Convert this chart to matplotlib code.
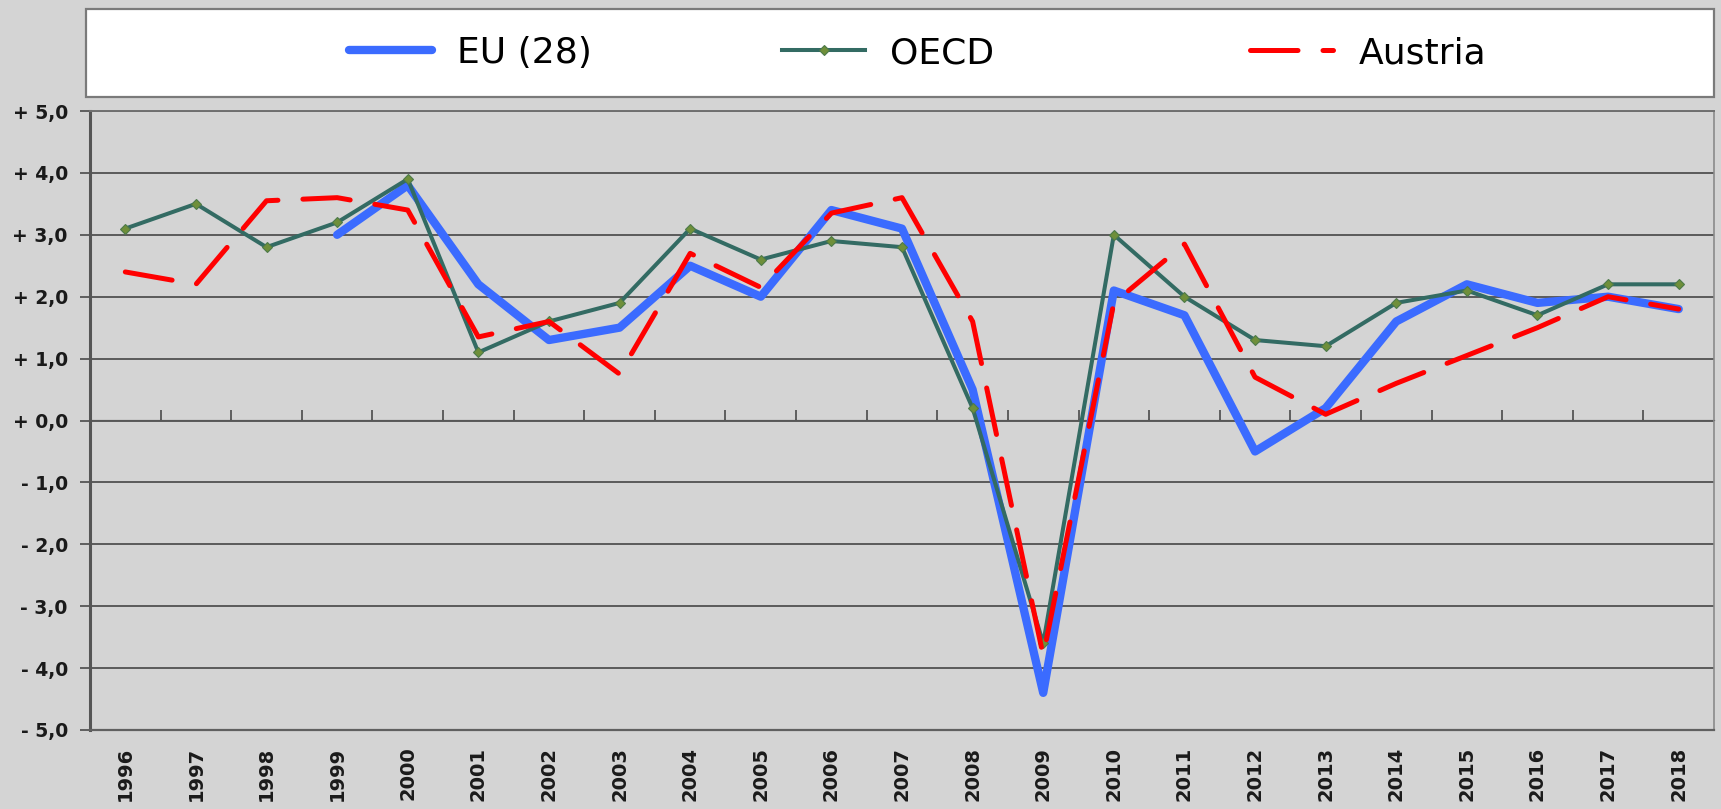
import numpy as np
import matplotlib.pyplot as plt
from matplotlib.patches import Rectangle
from matplotlib.ticker import FuncFormatter

nan = np.nan

# Real GDP growth, % vs previous year
years = [str(y) for y in range(1996, 2019)]
eu28 = [nan, nan, nan, 3.0, 3.8, 2.2, 1.3, 1.5, 2.5, 2.0, 3.4, 3.1,
        0.5, -4.4, 2.1, 1.7, -0.5, 0.2, 1.6, 2.2, 1.9, 2.0, 1.8]
oecd = [3.1, 3.5, 2.8, 3.2, 3.9, 1.1, 1.6, 1.9, 3.1, 2.6, 2.9, 2.8,
        0.2, -3.6, 3.0, 2.0, 1.3, 1.2, 1.9, 2.1, 1.7, 2.2, 2.2]
austria = [2.4, 2.2, 3.55, 3.6, 3.4, 1.35, 1.6, 0.75, 2.7, 2.15, 3.35, 3.6,
           1.6, -3.8, 1.9, 2.85, 0.7, 0.1, 0.6, 1.05, 1.5, 2.0, 1.8]

bg = '#d4d4d4'
W, H = 1721, 809

fig = plt.figure(figsize=(W / 100, H / 100), dpi=100, facecolor=bg)
ax = fig.add_axes([90 / W, 1 - 730 / H, (1714 - 90) / W, (730 - 111) / H])
ax.set_facecolor(bg)

x = np.arange(len(years))
l1, = ax.plot(x, eu28, color='#3b6bff', lw=6, solid_joinstyle='round', solid_capstyle='round',
              label='EU (28)', zorder=3)
l2, = ax.plot(x, oecd, color='#336b63', lw=2.9, marker='D', ms=5.5, mfc='#6f8f3a', mec='#4d7a4a',
              mew=0.8, label='OECD', zorder=4)
l3, = ax.plot(x, austria, color='#ff0000', lw=3.6, dashes=(9.5, 5), dash_capstyle='round',
              label='Austria', zorder=5)

ax.set_xlim(-0.5, len(years) - 0.5)
ax.set_ylim(-5, 5)
ax.set_yticks(np.arange(-5, 6, 1))

def fmt(v, pos):
    s = f"{abs(v):.1f}".replace('.', ',')
    return ('+ ' if v >= 0 else '- ') + s

ax.yaxis.set_major_formatter(FuncFormatter(fmt))
ax.set_xticks(x)
ax.set_xticklabels(years, rotation=90)
ax.tick_params(axis='x', length=0, pad=12, labelsize=14, labelcolor='#1a1a1a')
ax.tick_params(axis='y', length=7, width=1.3, color='#555555', pad=9,
               labelsize=13.5, labelcolor='#1a1a1a')
for lab in ax.get_xticklabels() + ax.get_yticklabels():
    lab.set_fontweight('bold')

ax.grid(axis='y', color='#5a5a5a', lw=1.4)
ax.set_axisbelow(True)
ax.spines['left'].set_color('#555555')
ax.spines['left'].set_linewidth(2.2)
ax.spines['bottom'].set_color('#606060')
ax.spines['bottom'].set_linewidth(1.6)
ax.spines['top'].set_color('#707070')
ax.spines['top'].set_linewidth(1.4)
ax.spines['right'].set_color('#8a8a8a')
ax.spines['right'].set_linewidth(1.2)

# category boundary ticks sitting on the zero line
sec = ax.secondary_xaxis(0.5)
sec.set_xticks(np.arange(0.5, len(years) - 1, 1))
sec.set_xticklabels([])
sec.tick_params(axis='x', length=7, width=1.3, color='#555555', direction='out')
sec.spines['bottom'].set_visible(False)

# legend box across the top, one entry per slot
fig.patches.append(Rectangle((86 / W, 1 - 97 / H), (1714 - 86) / W, 88 / H,
                             transform=fig.transFigure, facecolor='white',
                             edgecolor='#7a7a7a', lw=1.6, zorder=0))
for h, xs in [(l1, 349), (l2, 782), (l3, 1250)]:
    fig.legend(handles=[h], loc='center left', bbox_to_anchor=(xs / W, 1 - 53 / H),
               frameon=False, fontsize=26, handlelength=2.3, handletextpad=0.7,
               borderpad=0, borderaxespad=0)

fig.savefig('out.png', dpi=100, facecolor=bg)
